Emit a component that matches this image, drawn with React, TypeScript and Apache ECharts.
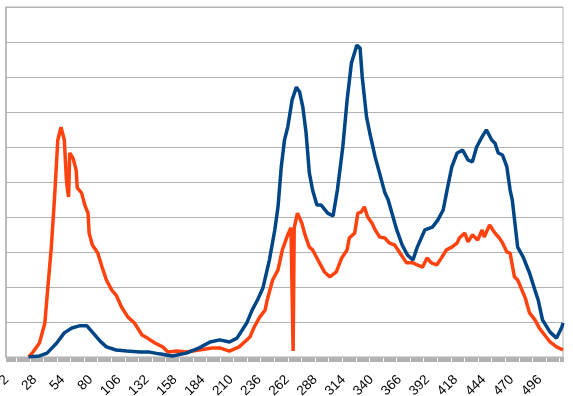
import React, { useEffect, useRef } from "react";
import * as echarts from "echarts";

const xStart = 2;
const xEnd = 518;

const blueX = [23,33,40,49,56,63,70,77,82,89,95,104,114,126,135,144,156,169,181,191,200,209,216,225,230,235,240,246,251,254,257,260,263,266,267,271,274,277,280,283,286,290,294,300,305,309,314,318,322,327,330,332,336,339,344,348,353,356,364,369,374,379,383,390,397,402,407,411,415,420,425,430,434,438,443,447,452,455,458,462,466,469,471,476,481,487,492,495,499,506,512,517,518];
const blueV = [0,0.3,1.1,4.0,6.9,8.3,8.9,8.9,7.1,4.6,2.9,2.0,1.7,1.4,1.4,0.9,0.3,1.1,2.6,4.3,4.9,4.3,5.4,9.7,13.4,16.3,19.7,27.7,36.3,42.9,54.3,62.0,65.7,71.4,73.4,77.1,75.7,71.4,64.0,52.6,47.7,43.4,43.4,41.1,40.3,47.7,60.0,73.4,84.0,89.1,88.3,80.0,68.6,64.0,57.1,52.6,46.9,44.9,36.3,32.0,29.1,27.7,31.4,36.3,37.1,39.1,42.0,48.3,54.3,58.3,59.1,56.3,55.7,60.0,62.9,64.9,62.0,61.1,58.3,57.7,54.3,47.7,44.9,31.4,28.6,24.0,19.1,16.3,10.6,7.1,5.4,8.6,9.7];

const orangeX = [23,27,33,38,40,44,47,50,53,56,58,59,60,61,64,67,68,72,75,78,79,82,87,91,95,100,104,109,115,121,128,133,140,147,152,160,169,181,193,200,209,218,228,232,237,242,244,249,254,258,263,266,268,269,272,276,279,283,286,291,297,302,308,313,318,320,325,328,331,334,337,341,344,348,353,357,362,367,373,379,383,388,392,396,401,406,410,415,420,422,427,430,434,439,443,445,450,455,459,462,466,469,473,476,480,483,487,492,496,501,506,512,518];
const orangeV = [0,1.4,4.0,9.7,17.1,31.4,45.7,62.0,65.7,62.0,50.6,47.7,45.7,58.3,56.9,53.4,48.3,46.9,43.4,41.1,35.4,32.0,29.7,25.7,22.0,19.1,17.7,14.3,11.4,9.7,6.3,5.4,4.0,2.9,1.4,1.7,1.4,2.0,2.6,2.6,1.7,2.9,5.7,8.6,11.4,13.4,16.3,22.0,24.9,30.6,34.9,36.9,1.7,36.9,41.1,38.3,34.9,31.4,30.6,27.7,24.3,22.9,24.3,28.3,30.6,34.0,35.4,41.1,41.4,42.9,40.0,38.3,36.3,34.3,34.0,32.6,32.0,29.7,26.9,26.9,26.3,25.7,28.3,26.9,26.3,28.6,30.6,31.4,32.6,34.0,35.4,32.9,34.9,33.4,36.3,34.3,37.7,35.4,34.0,32.6,30.0,29.7,22.9,22.0,19.1,16.9,12.6,10.6,8.3,6.3,4.3,2.9,2.0];

const categories: string[] = [];
for (let c = xStart; c <= xEnd; c++) categories.push(String(c));

export default function App() {
  const ref = useRef<HTMLDivElement>(null);
  useEffect(() => {
    if (!ref.current) return;
    const chart = echarts.init(ref.current, undefined, { renderer: "svg" });
    const gray = "#b3b3b3";
    chart.setOption({
      animation: false,
      grid: {
        left: 6, right: 10, top: 7, bottom: 39,
        show: true, borderColor: gray, borderWidth: 1,
        containLabel: false,
        outerBoundsMode: "none",
      },
      xAxis: {
        type: "category",
        data: categories,
        boundaryGap: false,
        axisLine: { show: true, lineStyle: { color: gray, width: 1 } },
        axisTick: { show: true, interval: 0, length: 5, lineStyle: { color: gray } },
        axisLabel: {
          interval: 25,
          rotate: 45,
          fontSize: 13.5,
          color: "#000",
          fontFamily: "Liberation Sans",
          margin: 20,
          hideOverlap: false,
        },
        splitLine: { show: false },
      },
      yAxis: {
        type: "value",
        min: 0,
        max: 100,
        interval: 10,
        axisLabel: { show: false },
        axisTick: { show: false },
        axisLine: { show: true, lineStyle: { color: gray, width: 1.5 } },
        splitLine: { show: true, lineStyle: { color: gray, width: 1 } },
      },
      series: [
        {
          type: "line",
          showSymbol: false,
          data: orangeX.map((c, i) => [c - xStart, orangeV[i]]),
          lineStyle: { color: "#ff420e", width: 3.5 },
          itemStyle: { color: "#ff420e" },
        },
        {
          type: "line",
          showSymbol: false,
          data: blueX.map((c, i) => [c - xStart, blueV[i]]),
          lineStyle: { color: "#004586", width: 3.5 },
          itemStyle: { color: "#004586" },
        },
      ],
    });
    return () => chart.dispose();
  }, []);
  return <div ref={ref} style={{ position: "fixed", left: 0, top: 0, width: 573, height: 396 }} />;
}
